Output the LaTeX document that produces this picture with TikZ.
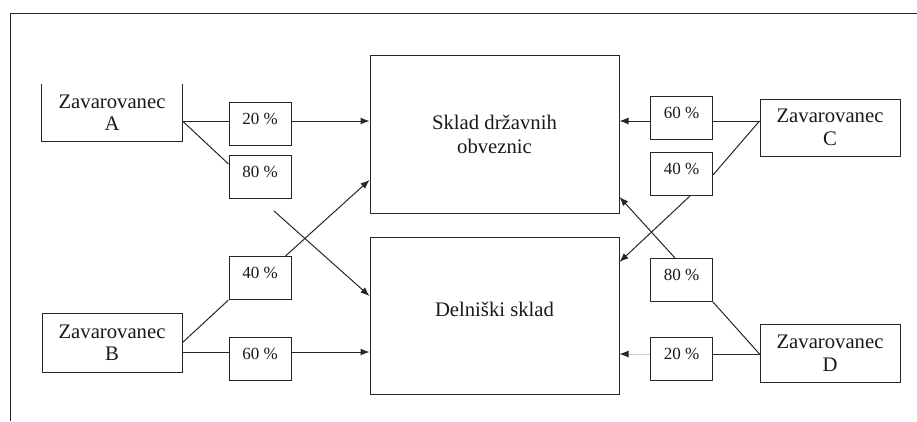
\documentclass[tikz,border=0pt]{standalone}
\usepackage{fontspec}
\setmainfont{Liberation Serif}
\usetikzlibrary{arrows.meta}
\begin{document}
\begin{tikzpicture}[x=1pt,y=1pt,
  line width=1pt, draw={black!85},
  arr/.style={-{Latex[length=9pt,width=7pt]}},
  person/.style={inner sep=0pt, minimum width=140pt, align=center,
    font=\fontsize{20.7}{22.5}\selectfont, text=black!90},
  fund/.style={draw, inner sep=0pt, minimum width=249pt, align=center,
    font=\fontsize{20.7}{24}\selectfont, text=black!90},
  pct/.style={draw, inner sep=0pt, minimum width=62pt, text height=22pt,
    text depth=21pt, anchor=north, font=\fontsize{17}{20}\selectfont, text=black!90}
]
\useasboundingbox (0,0) rectangle (917,-421);
% frame
\draw (10,-421) -- (10,-13) -- (917,-13);

% funds
\node[fund, minimum height=158pt] (S) at (494.5,-134) {Sklad državnih\\obveznic};
\node[fund, text height=79pt, text depth=78pt] (Dl) at (494.5,-315.5) {Delniški sklad};

% insured persons
\node[person, minimum height=57pt] (A) at (112,-112.5) {Zavarovanec\\A};
\draw (A.north west) -- (A.south west) -- (A.south east) -- (A.north east);
\node[person, draw, minimum height=59pt] (B) at (112,-342.5) {Zavarovanec\\B};
\node[person, draw, minimum height=57pt] (C) at (830,-127.5) {Zavarovanec\\C};
\node[person, draw, minimum height=58pt] (D) at (830,-353) {Zavarovanec\\D};

% percentage boxes
\node[pct] (pA20) at (260,-102) {20 \%};
\node[pct] (pA80) at (260,-155) {80 \%};
\node[pct] (pB40) at (260,-256) {40 \%};
\node[pct] (pB60) at (260,-337) {60 \%};
\node[pct] (pC60) at (681.5,-96) {60 \%};
\node[pct] (pC40) at (681.5,-152) {40 \%};
\node[pct] (pD80) at (681.5,-258) {80 \%};
\node[pct] (pD20) at (681.5,-337) {20 \%};

% junction points on the person boxes
\coordinate (ja) at ([yshift=-8.5pt]A.east);
\coordinate (jb) at ([yshift=-9.5pt]B.east);
\coordinate (jc) at ([yshift=6.5pt]C.west);
\coordinate (jd) at ([yshift=-1pt]D.west);
\coordinate (a80s) at ([xshift=14pt,yshift=-12pt]pA80.south);

% A
\draw (ja) -- (ja -| pA20.west);
\draw[arr] (ja -| pA20.east) -- (ja -| S.west);
\draw (ja) -- ([yshift=-9pt]pA80.north west);
\draw[arr] (a80s) -- ([yshift=19.5pt]Dl.west);

% B
\draw (B.east) -- (pB40.south west);
\draw[arr] ([xshift=-6pt]pB40.north east) -- ([yshift=-46pt]S.west);
\draw (jb) -- (jb -| pB60.west);
\draw[arr] (jb -| pB60.east) -- (jb -| Dl.west);

% C
\draw (jc) -- (jc -| pC60.east);
\draw[arr] (jc -| pC60.west) -- (jc -| S.east);
\draw (jc) -- ([yshift=-23pt]pC40.north east);
\draw[arr] ([xshift=8.5pt]pC40.south) -- ([yshift=53.5pt]Dl.east);

% D
\draw (jd) -- (jd -| pD20.east);
\draw[-{Latex[length=9pt,width=7pt,color=black!85]}, draw=black!20] (jd -| pD20.west) -- (jd -| Dl.east);
\draw (jd) -- (pD80.south east);
\draw[arr] ([xshift=-6.5pt]pD80.north) -- ([yshift=-63pt]S.east);
\end{tikzpicture}
\end{document}
